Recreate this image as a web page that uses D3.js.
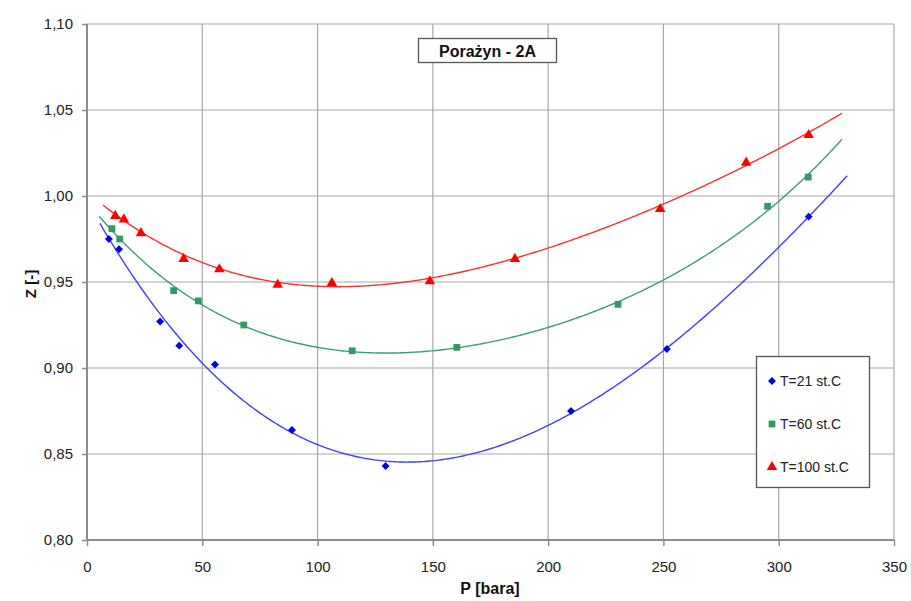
<!DOCTYPE html>
<html>
<head>
<meta charset="utf-8">
<script src="https://cdn.jsdelivr.net/npm/d3@7"></script>
<style>
  html, body { margin: 0; padding: 0; background: #fff; }
  svg { display: block; font-family: "Liberation Sans", Arial, sans-serif; }
</style>
</head>
<body>
<svg id="chart" width="911" height="601"></svg>
<script>
// Measured compressibility factor Z versus pressure P at three temperatures
const series21P = [9.5, 13.9, 31.7, 40.0, 55.5, 88.9, 129.5, 209.9, 251.5, 313.0];
const series21Z = [0.975, 0.969, 0.927, 0.913, 0.902, 0.864, 0.843, 0.875, 0.911, 0.988];

const series60P = [10.8, 14.2, 37.6, 48.3, 68.0, 115.0, 160.4, 230.3, 295.2, 312.8];
const series60Z = [0.981, 0.975, 0.945, 0.939, 0.925, 0.910, 0.912, 0.937, 0.994, 1.011];

const series100P = [12.3, 16.0, 23.4, 41.9, 57.4, 82.7, 106.2, 148.7, 185.6, 248.6, 285.9, 313.0];
const series100Z = [0.989, 0.987, 0.979, 0.964, 0.958, 0.949, 0.950, 0.951, 0.964, 0.993, 1.020, 1.036];

// Pressure range covered by each polynomial trend line
const trendRange21 = [5.6, 329.7];
const trendRange60 = [5.3, 327.5];
const trendRange100 = [6.9, 327.5];
const trendOrder = 4;

const xTicks = [0, 50, 100, 150, 200, 250, 300, 350];
const yTicks = [0.80, 0.85, 0.90, 0.95, 1.00, 1.05, 1.10];

const legendLabels = ["T=21 st.C", "T=60 st.C", "T=100 st.C"];
const chartTitle = "Porażyn - 2A";
const xTitle = "P [bara]";
const yTitle = "Z [-]";

const svg = d3.select("#chart");
const plotL = 87, plotR = 894, plotT = 24, plotB = 540;

const x = d3.scaleLinear().domain([0, 350]).range([plotL, plotR]);
const y = d3.scaleLinear().domain([0.80, 1.10]).range([plotB, plotT]);

const fmt = v => d3.format(".2f")(v).replace(".", ",");

// least-squares polynomial fit (P scaled by 1/100 for conditioning)
function polyFit(xs, ys, order) {
  const n = order + 1;
  const A = Array.from({ length: n }, () => new Array(n + 1).fill(0));
  xs.forEach((xv, k) => {
    const t = xv / 100;
    for (let i = 0; i < n; i++) {
      for (let j = 0; j < n; j++) A[i][j] += Math.pow(t, i + j);
      A[i][n] += Math.pow(t, i) * ys[k];
    }
  });
  for (let c = 0; c < n; c++) {
    let p = c;
    for (let r = c + 1; r < n; r++) if (Math.abs(A[r][c]) > Math.abs(A[p][c])) p = r;
    [A[c], A[p]] = [A[p], A[c]];
    for (let r = 0; r < n; r++) {
      if (r === c) continue;
      const f = A[r][c] / A[c][c];
      for (let j = c; j <= n; j++) A[r][j] -= f * A[c][j];
    }
  }
  const coef = A.map((row, i) => row[n] / row[i]);
  return xv => coef.reduce((s, cf, i) => s + cf * Math.pow(xv / 100, i), 0);
}

// gridlines
const grid = svg.append("g");
grid.selectAll("line.v").data(xTicks.slice(1)).join("line")
  .attr("x1", d => x(d)).attr("x2", d => x(d))
  .attr("y1", plotT).attr("y2", plotB)
  .attr("stroke", "#a8a8a8").attr("stroke-width", 1.2);
grid.selectAll("line.h").data(yTicks.slice(1)).join("line")
  .attr("x1", plotL).attr("x2", plotR)
  .attr("y1", d => y(d)).attr("y2", d => y(d))
  .attr("stroke", "#a8a8a8").attr("stroke-width", 1.2);

// axes
const yAxis = d3.axisLeft(y).tickValues(yTicks).tickFormat(fmt).tickSize(5).tickPadding(9);
const xAxis = d3.axisBottom(x).tickValues(xTicks).tickFormat(d3.format("d")).tickSize(6).tickPadding(15);

const gy = svg.append("g").attr("transform", `translate(${plotL},0)`).call(yAxis);
const gx = svg.append("g").attr("transform", `translate(0,${plotB})`).call(xAxis);
[gx, gy].forEach(g => {
  g.select(".domain").attr("stroke", "#8c8c8c").attr("stroke-width", 2);
  g.selectAll(".tick line").attr("stroke", "#8c8c8c").attr("stroke-width", 1.5);
  g.selectAll(".tick text").attr("fill", "#222").attr("font-size", 15)
    .attr("font-family", "'Liberation Sans', Arial, sans-serif");
});
gy.select(".domain").attr("d", `M0,${plotB}V${plotT}`);
gx.select(".domain").attr("d", `M${plotL},0H${plotR}`);

// axis titles
svg.append("text").attr("x", 490).attr("y", 594).attr("text-anchor", "middle")
  .attr("font-weight", "bold").attr("font-size", 16).attr("fill", "#111").text(xTitle);
svg.append("text").attr("transform", `translate(36,${(plotT + plotB) / 2 + 2}) rotate(-90)`)
  .attr("text-anchor", "middle").attr("font-weight", "bold").attr("font-size", 15)
  .attr("fill", "#111").text(yTitle);

// series definitions
const sets = [
  { P: series21P, Z: series21Z, range: trendRange21, color: "#0000ee", lineColor: "#4040ff", shape: "diamond" },
  { P: series60P, Z: series60Z, range: trendRange60, color: "#339966", lineColor: "#3f9e6b", shape: "square" },
  { P: series100P, Z: series100Z, range: trendRange100, color: "#ff0000", lineColor: "#ff3030", shape: "triangle" }
];

// trend curves
const line = d3.line().x(d => x(d[0])).y(d => y(d[1]));
sets.forEach(s => {
  const f = polyFit(s.P, s.Z, trendOrder);
  const pts = d3.range(s.range[0], s.range[1], 1).concat([s.range[1]]).map(p => [p, f(p)]);
  svg.append("path").datum(pts)
    .attr("d", line).attr("fill", "none")
    .attr("stroke", s.lineColor).attr("stroke-width", 1.4);
});

// markers
const sym = {
  diamond: d3.symbol().type(d3.symbolDiamond2).size(40),
  square: d3.symbol().type(d3.symbolSquare).size(46),
  triangle: d3.symbol().type(d3.symbolTriangle).size(48)
};
sets.forEach(s => {
  svg.append("g").selectAll("path").data(s.P.map((p, i) => [p, s.Z[i]])).join("path")
    .attr("d", sym[s.shape])
    .attr("transform", d => `translate(${x(d[0])},${y(d[1]) + (s.shape === "triangle" ? 1 : 0)})`)
    .attr("fill", s.color);
});

// title box
const tb = svg.append("g");
tb.append("rect").attr("x", 418.5).attr("y", 38.5).attr("width", 138).attr("height", 24)
  .attr("fill", "#fff").attr("stroke", "#555").attr("stroke-width", 1.3);
tb.append("text").attr("x", 487.5).attr("y", 56.5).attr("text-anchor", "middle")
  .attr("font-weight", "bold").attr("font-size", 16).attr("fill", "#111").text(chartTitle);

// legend
const lg = svg.append("g");
lg.append("rect").attr("x", 756.5).attr("y", 356.5).attr("width", 113).attr("height", 131)
  .attr("fill", "#fff").attr("stroke", "#555").attr("stroke-width", 1.3);
legendLabels.forEach((lab, i) => {
  const cy = 381 + i * 43;
  const s = sets[i];
  lg.append("path").attr("d", sym[s.shape])
    .attr("transform", `translate(772,${cy})`)
    .attr("fill", s.color);
  lg.append("text").attr("x", 780).attr("y", cy + 5).attr("font-size", 14)
    .attr("fill", "#222").text(lab);
});
</script>
</body>
</html>
